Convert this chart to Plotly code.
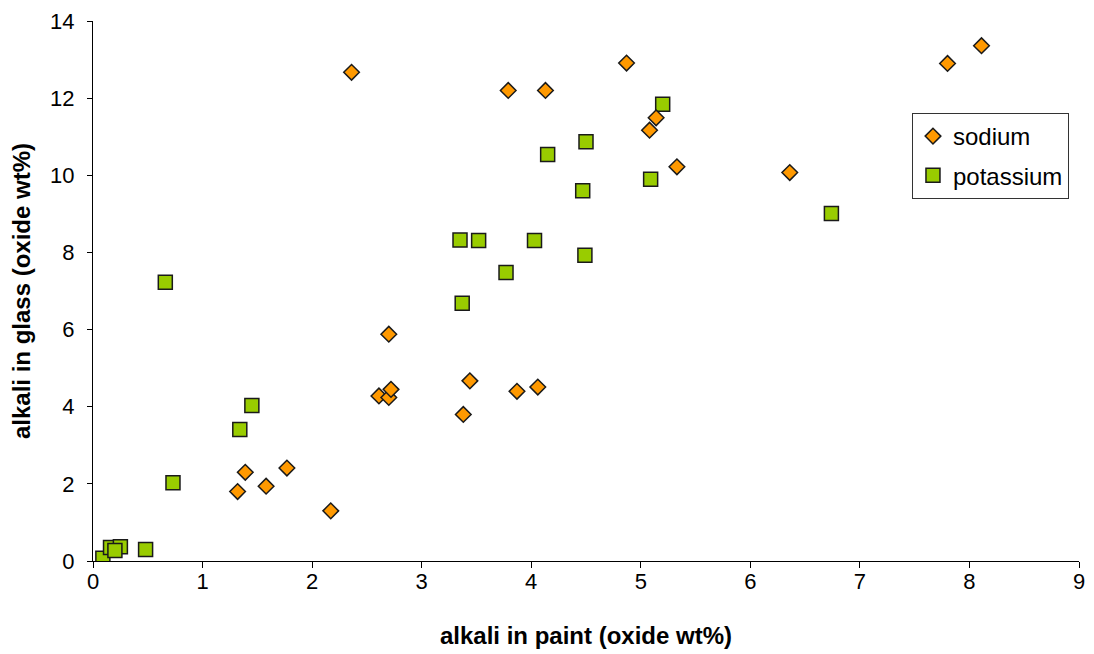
import plotly.graph_objects as go

sodium_paint = [2.36, 4.87, 3.79, 4.13, 7.80, 8.11, 5.14, 5.08, 5.33, 6.36,
                2.70, 3.44, 2.61, 2.70, 2.72, 3.38, 3.87, 4.06,
                1.39, 1.32, 1.58, 1.77, 2.17]
sodium_glass = [12.67, 12.91, 12.20, 12.20, 12.90, 13.36, 11.49, 11.17, 10.22, 10.07,
                5.88, 4.67, 4.28, 4.24, 4.45, 3.80, 4.40, 4.51,
                2.30, 1.80, 1.94, 2.41, 1.30]

potassium_paint = [0.66, 1.45, 1.34, 0.73, 0.09, 0.16, 0.25, 0.20, 0.48,
                   3.35, 3.52, 4.03, 4.49, 3.77, 3.37,
                   4.15, 4.50, 4.47, 5.20, 5.09, 6.74]
potassium_glass = [7.23, 4.03, 3.41, 2.03, 0.07, 0.35, 0.37, 0.27, 0.30,
                   8.32, 8.31, 8.31, 7.93, 7.48, 6.68,
                   10.54, 10.87, 9.60, 11.84, 9.90, 9.01]

font_family = "Liberation Sans, Arial, sans-serif"

fig = go.Figure()
fig.add_trace(go.Scatter(
    x=potassium_paint, y=potassium_glass, mode="markers", name="potassium",
    legendgroup="k", legendrank=2,
    marker=dict(symbol="square", size=14, color="#99CC00",
                line=dict(color="#1a1a1a", width=1.5)),
))
fig.add_trace(go.Scatter(
    x=sodium_paint, y=sodium_glass, mode="markers", name="sodium",
    legendgroup="na", legendrank=1,
    marker=dict(symbol="diamond", size=12, color="#FF9900",
                line=dict(color="#1a1a1a", width=1.5)),
))

fig.update_layout(
    width=1086, height=646,
    margin=dict(l=85, r=15, t=13, b=93, autoexpand=False),
    paper_bgcolor="white", plot_bgcolor="white",
    font=dict(family=font_family, size=22, color="black"),
    showlegend=True,
    legend=dict(
        x=0.8306, y=0.8296, xanchor="left", yanchor="top",
        bordercolor="#333333", borderwidth=1, bgcolor="white",
        font=dict(size=24, family=font_family),
        traceorder="grouped", tracegroupgap=5,
        itemwidth=30,
    ),
    xaxis=dict(
        range=[0, 9], dtick=1, tick0=0, automargin=False,
        showgrid=False, zeroline=False,
        showline=True, linecolor="black", linewidth=1,
        ticks="outside", ticklen=6, tickcolor="black",
        ticklabelstandoff=-5,
        tickfont=dict(size=22),
        title=dict(text="<b>alkali in paint (oxide wt%)</b>", font=dict(size=24), standoff=33),
    ),
    yaxis=dict(
        range=[0, 14], dtick=2, tick0=0, automargin=False,
        showgrid=False, zeroline=False,
        showline=True, linecolor="black", linewidth=1,
        ticks="outside", ticklen=5, tickcolor="black",
        ticklabelstandoff=8,
        tickfont=dict(size=22),
        title=dict(text="<b>alkali in glass (oxide wt%)</b>", font=dict(size=24), standoff=13),
    ),
)

fig.write_html("out.html")
